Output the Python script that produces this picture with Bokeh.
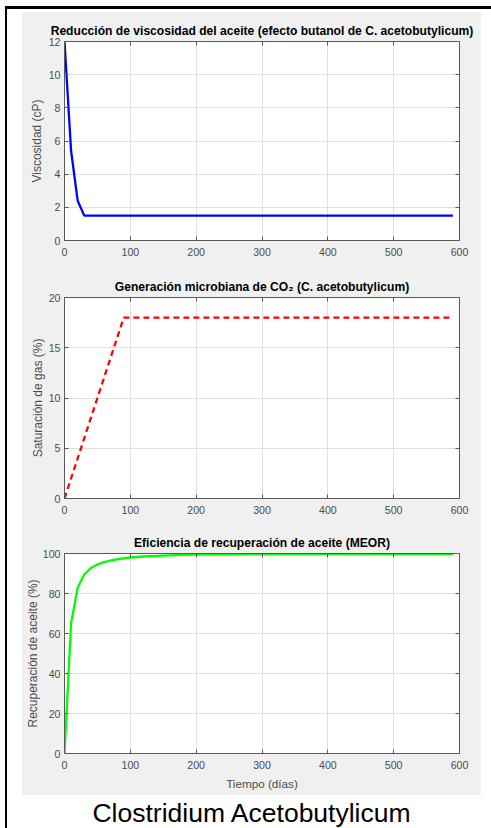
from bokeh.plotting import figure
from bokeh.layouts import column, row
from bokeh.models import Range1d, FixedTicker, LinearAxis, Div, Spacer
from bokeh.embed import file_html
from bokeh.resources import INLINE

# ---------------- data ----------------
x_ticks = [0, 100, 200, 300, 400, 500, 600]

visc_t = [0, 10, 20, 30, 590]
visc = [12, 5.4, 2.4, 1.5, 1.5]
visc_ticks = [0, 2, 4, 6, 8, 10, 12]

co2_t = [0, 90, 590]
co2 = [0, 18, 18]
co2_ticks = [0, 5, 10, 15, 20]

rec_t = [0, 10, 20, 30, 40, 50, 60, 70, 80, 90, 100, 120, 140, 160, 180, 200,
         250, 300, 350, 400, 450, 500, 550, 590]
rec = [0, 65, 83, 89.5, 92.7, 94.5, 95.7, 96.5, 97.1, 97.6, 98.0, 98.5, 98.85,
       99.1, 99.3, 99.4, 99.58, 99.7, 99.76, 99.8, 99.83, 99.85, 99.87, 99.88]
rec_ticks = [0, 20, 40, 60, 80, 100]

title1 = "Reducción de viscosidad del aceite (efecto butanol de C. acetobutylicum)"
title2 = "Generación microbiana de CO₂ (C. acetobutylicum)"
title3 = "Eficiencia de recuperación de aceite (MEOR)"
ylab1 = "Viscosidad (cP)"
ylab2 = "Saturación de gas (%)"
ylab3 = "Recuperación de aceite (%)"
xlab3 = "Tiempo (días)"
main_title = "Clostridium Acetobutylicum"

FONT = "Liberation Sans"
AX = "#4d4d4d"
BOX = "#5a5a5a"
GRID = "#e0e0e0"
BG = "#f0f0f0"


def style_axis(ax, ticks, show_labels=True):
    ax.ticker = FixedTicker(ticks=ticks)
    ax.major_tick_in = 4
    ax.major_tick_out = 0
    ax.minor_tick_line_color = None
    ax.axis_line_color = BOX
    ax.major_tick_line_color = BOX
    ax.major_label_text_font = FONT
    if show_labels:
        ax.major_label_text_color = AX
        ax.major_label_text_font_size = "10.6px"
    else:
        ax.major_label_text_color = None
        ax.major_label_text_font_size = "1px"
        ax.major_label_standoff = 0


def make_fig(h, top, bottom, yhi, yticks, title, ylabel, ylab_standoff, xlabel=None):
    p = figure(width=459, height=h, x_range=Range1d(0, 600), y_range=Range1d(0, yhi),
               output_backend="svg", toolbar_location=None,
               min_border_left=38, min_border_right=22,
               min_border_top=top, min_border_bottom=bottom,
               background_fill_color="white", border_fill_color=BG,
               outline_line_color=BOX, margin=0)
    p.title.text = title
    p.title.align = "center"
    p.title.text_font = FONT
    p.title.text_font_size = "12.1px"
    p.title.text_font_style = "bold"
    p.title.text_color = "black"
    p.title.standoff = 8
    style_axis(p.xaxis[0], x_ticks)
    style_axis(p.yaxis[0], yticks)
    p.xaxis.major_label_standoff = 7
    p.yaxis.major_label_standoff = 4
    p.yaxis.axis_label = ylabel
    p.yaxis.axis_label_text_font = FONT
    p.yaxis.axis_label_text_font_size = "12px"
    p.yaxis.axis_label_text_font_style = "normal"
    p.yaxis.axis_label_text_color = AX
    p.yaxis.axis_label_standoff = ylab_standoff
    if xlabel:
        p.xaxis.axis_label = xlabel
        p.xaxis.axis_label_text_font = FONT
        p.xaxis.axis_label_text_font_size = "11.7px"
        p.xaxis.axis_label_text_font_style = "normal"
        p.xaxis.axis_label_text_color = AX
        p.xaxis.axis_label_standoff = 5
    r = LinearAxis()
    style_axis(r, yticks, False)
    p.add_layout(r, "right")
    a = LinearAxis()
    style_axis(a, x_ticks, False)
    p.add_layout(a, "above")
    p.xgrid.ticker = FixedTicker(ticks=x_ticks)
    p.ygrid.ticker = FixedTicker(ticks=yticks)
    p.grid.grid_line_color = GRID
    return p


p1 = make_fig(253, 29, 25, 12, visc_ticks, title1, ylab1, 2)
p1.line(visc_t, visc, line_color="#0000ff", line_width=2.3)

p2 = make_fig(260, 32, 27, 20, co2_ticks, title2, ylab2, 1)
p2.line(co2_t, co2, line_color="#ff0000", line_width=2.3, line_dash="6 4")

p3 = make_fig(270, 28, 42, 100, rec_ticks, title3, ylab3, 0, xlab3)
p3.line(rec_t, rec, line_color="#00ff00", line_width=2.3)

title_div = Div(text=main_title, width=459, height=33, margin=0,
                styles={"font-family": FONT, "font-size": "26.5px", "color": "black",
                        "text-align": "center", "line-height": "36px",
                        "white-space": "nowrap"})

plots = column(p1, p2, p3, spacing=0, margin=0, styles={"background-color": BG})

top_line = row(Spacer(width=5, height=3, margin=0),
               Spacer(width=486, height=3, margin=0, styles={"background-color": "black"}),
               spacing=0, margin=0)
body = row(Spacer(width=5, height=819, margin=0),
           Spacer(width=2, height=819, margin=0, styles={"background-color": "black"}),
           Spacer(width=15, height=819, margin=0),
           column(Spacer(width=459, height=3, margin=0), plots, title_div, spacing=0, margin=0),
           spacing=0, margin=0)
root = column(Spacer(width=491, height=6, margin=0), top_line, body, spacing=0, margin=0,
              styles={"background-color": "white"})

open("out.html", "w").write(file_html(root, INLINE))
